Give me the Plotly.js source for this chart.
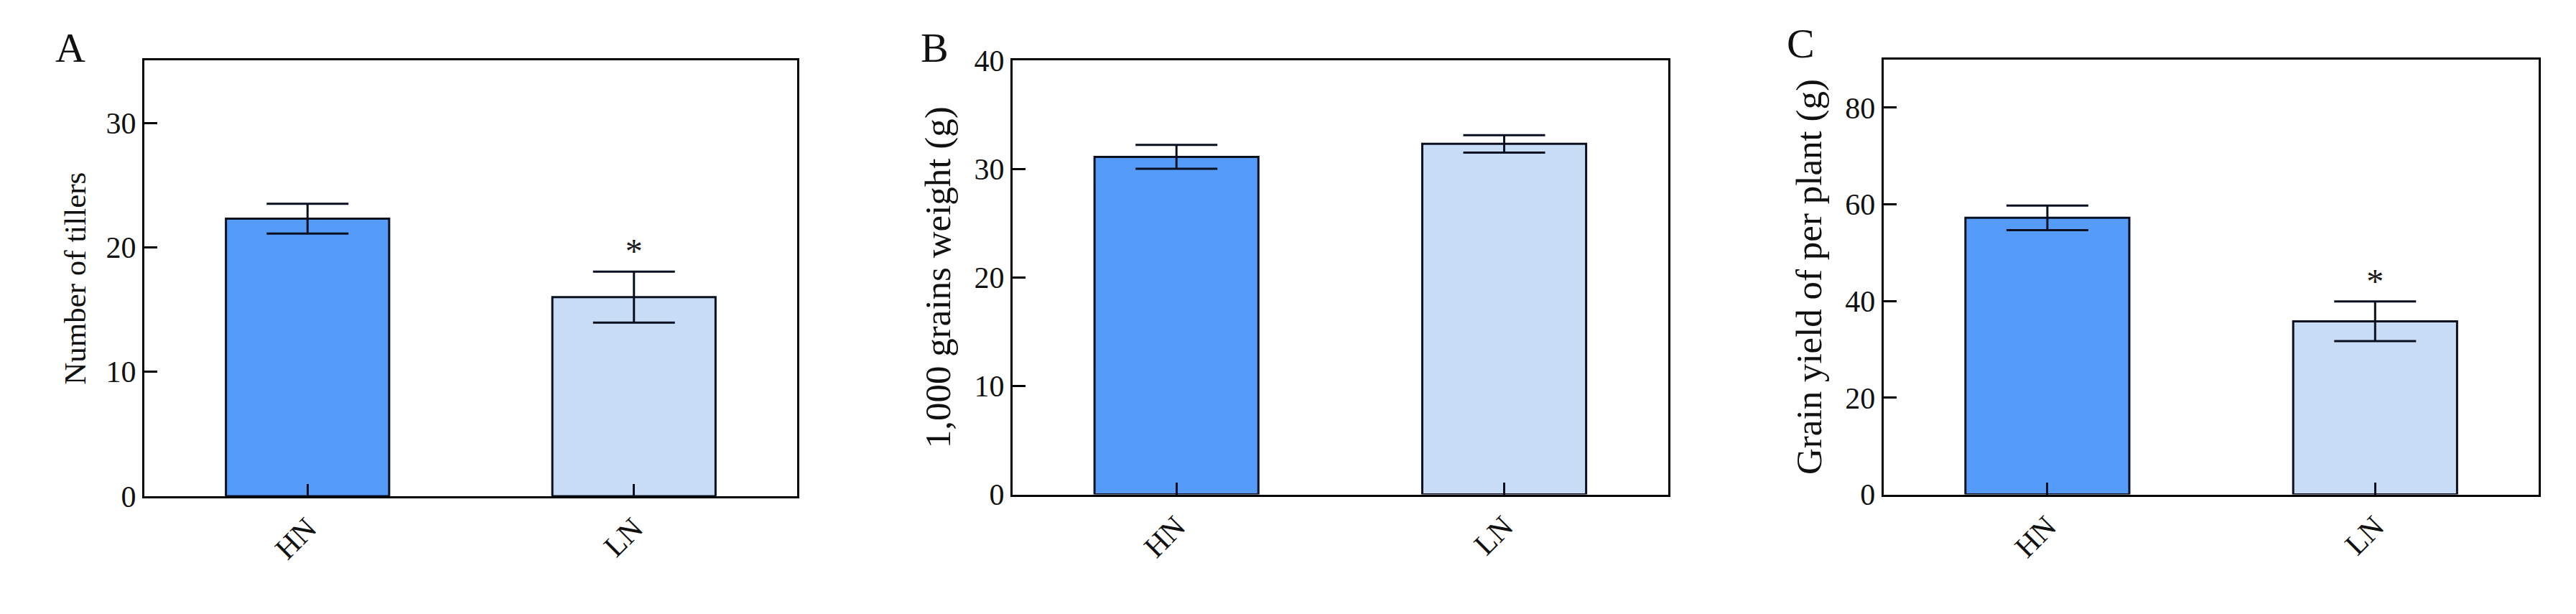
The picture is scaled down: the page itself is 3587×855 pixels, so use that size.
<!DOCTYPE html>
<html>
<head>
<meta charset="utf-8">
<script src="https://cdn.plot.ly/plotly-3.0.1.min.js"></script>
<style>
  html, body { margin: 0; padding: 0; background: #fff; }
  #chart { width: 3587px; height: 855px; }
</style>
</head>
<body>
<div id="chart"></div>
<script>
// groups and values
let groups = ['HN', 'LN'];

let tillersMean = [22.3, 16.0];
let tillersErr = [1.2, 2.05];
let tillersSig = ['', '*'];

let grainWtMean = [31.1, 32.3];
let grainWtErr = [1.1, 0.8];
let grainWtSig = ['', ''];

let yieldMean = [57.2, 35.8];
let yieldErr = [2.55, 4.1];
let yieldSig = ['', '*'];

let panelLetters = ['A', 'B', 'C'];
let yTitles = ['Number of tillers', '1,000 grains weight (g)', 'Grain yield of per plant (g)'];
let yRanges = [[0, 35], [0, 40], [0, 90]];
let yDticks = [10, 10, 20];

const FONT = 'Liberation Serif, Times New Roman, serif';
const barColors = ['#559BF9', '#C8DCF5'];
const edge = '#0b1020';

function panelTraces(mean, err, sig, k) {
    let xa = k === 0 ? 'x' : 'x' + (k + 1);
    let ya = k === 0 ? 'y' : 'y' + (k + 1);
    let bar = {
        type: 'bar', x: groups, y: mean, xaxis: xa, yaxis: ya,
        marker: {color: barColors, line: {color: edge, width: 3}},
        error_y: {type: 'data', array: err, visible: true, color: edge, thickness: 3, width: 57},
        showlegend: false, hoverinfo: 'x+y'
    };
    // significance stars sit on top of the error bar
    let sx = [], sy = [], st = [];
    for (let i = 0; i < groups.length; i++) {
        if (sig[i]) {
            sx.push(groups[i]);
            sy.push(mean[i] + err[i]);
            st.push(sig[i]);
        }
    }
    let stars = {
        type: 'scatter', mode: 'text', x: sx, y: sy, text: st, xaxis: xa, yaxis: ya,
        textposition: 'top center', textfont: {family: FONT, size: 48, color: '#1a1a1a'},
        showlegend: false, hoverinfo: 'skip', cliponaxis: false
    };
    return [bar, stars];
}

let data = [].concat(
    panelTraces(tillersMean, tillersErr, tillersSig, 0),
    panelTraces(grainWtMean, grainWtErr, grainWtSig, 1),
    panelTraces(yieldMean, yieldErr, yieldSig, 2)
);

let xDomains = [[0.05604, 0.30945], [0.39309, 0.64754], [0.73117, 0.98564]];
let yDomains = [[0.1918, 0.9012], [0.1947, 0.9018], [0.1947, 0.9035]];
let titleSizes = [43, 51, 51];
let titleStandoff = [15, 17, 17];

let layout = {
    width: 3587, height: 855,
    margin: {l: 0, r: 0, t: 0, b: 0},
    paper_bgcolor: '#fff', plot_bgcolor: '#fff',
    bargap: 0.5,
    font: {family: FONT, size: 42, color: '#111'},
    annotations: []
};

for (let k = 0; k < 3; k++) {
    let sfx = k === 0 ? '' : String(k + 1);
    layout['xaxis' + sfx] = {
        domain: xDomains[k], anchor: 'y' + sfx,
        type: 'category', range: [-0.5, 1.5],
        showline: true, mirror: true, linecolor: '#000', linewidth: 3,
        ticks: 'inside', ticklen: 17, tickwidth: 3, tickcolor: edge,
        tickangle: -45, tickfont: {family: FONT, size: 42, color: '#111'},
        showgrid: false, zeroline: false, fixedrange: true
    };
    layout['yaxis' + sfx] = {
        domain: yDomains[k], anchor: 'x' + sfx,
        range: yRanges[k], dtick: yDticks[k], tick0: 0,
        showline: true, mirror: true, linecolor: '#000', linewidth: 3,
        ticks: 'inside', ticklen: 18, tickwidth: 3, tickcolor: '#000',
        tickfont: {family: FONT, size: 42, color: '#111'},
        title: {text: yTitles[k], font: {family: FONT, size: titleSizes[k], color: '#111'}, standoff: titleStandoff[k]},
        showgrid: false, zeroline: false, fixedrange: true
    };
}

let letterX = [98, 1301, 2507];
let letterY = [66, 67, 60];
for (let k = 0; k < 3; k++) {
    layout.annotations.push({
        text: panelLetters[k], xref: 'paper', yref: 'paper',
        x: letterX[k] / 3587, y: 1 - letterY[k] / 855,
        xanchor: 'center', yanchor: 'middle', showarrow: false,
        font: {family: FONT, size: 58, color: '#111'}
    });
}

Plotly.newPlot('chart', data, layout, {displayModeBar: false, staticPlot: true});
</script>
</body>
</html>
